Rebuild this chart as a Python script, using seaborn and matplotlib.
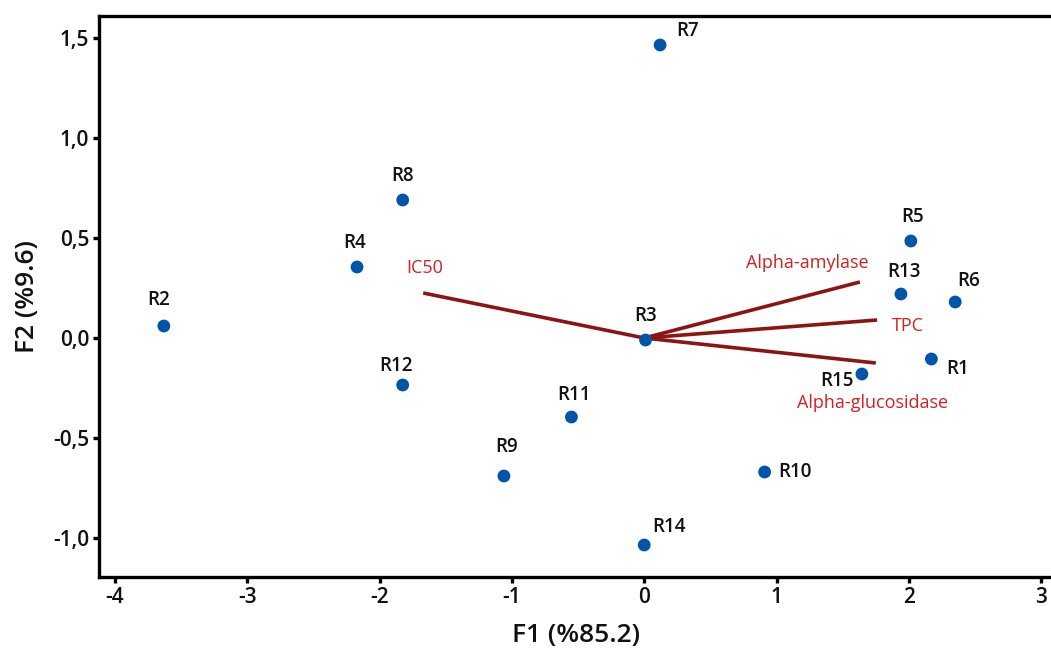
import matplotlib
matplotlib.use("Agg")
import matplotlib.pyplot as plt
import seaborn as sns
import pandas as pd

# Observations (scores)
obs_names = ["R1", "R2", "R3", "R4", "R5", "R6", "R7", "R8", "R9", "R10",
             "R11", "R12", "R13", "R14", "R15"]
obs_f1 = [2.17, -3.63, 0.01, -2.17, 2.015, 2.35, 0.12, -1.825, -1.06, 0.91,
          -0.55, -1.825, 1.94, 0.0, 1.645]
obs_f2 = [-0.105, 0.06, -0.01, 0.355, 0.485, 0.18, 1.465, 0.69, -0.69, -0.67,
          -0.395, -0.235, 0.22, -1.035, -0.18]

# Variables (loadings)
var_names = ["IC50", "Alpha-amylase", "TPC", "Alpha-glucosidase"]
var_f1 = [-1.67, 1.63, 1.76, 1.75]
var_f2 = [0.225, 0.28, 0.09, -0.125]

x_ticks = [-4, -3, -2, -1, 0, 1, 2, 3]
y_ticks = [-1.0, -0.5, 0.0, 0.5, 1.0, 1.5]
y_tick_labels = ["-1,0", "-0,5", "0,0", "0,5", "1,0", "1,5"]

sns.set_theme(style="white")
plt.rcParams["font.family"] = ["Open Sans", "DejaVu Sans"]

W, H = 1051, 648
fig = plt.figure(figsize=(W / 100, H / 100), dpi=100)
ax = fig.add_axes([99 / W, 71 / H, 1 - 99 / W, (577 - 16) / H])

df = pd.DataFrame({"F1": obs_f1, "F2": obs_f2, "name": obs_names})

# vectors
for n, vx, vy in zip(var_names, var_f1, var_f2):
    ax.plot([0, vx], [0, vy], color="#8c1414", lw=2.6, solid_capstyle="butt", zorder=2)

sns.scatterplot(data=df, x="F1", y="F2", ax=ax, color="#0055a8", s=85,
                edgecolor="none", zorder=3)

# point label offsets (points)
offsets = {
    "R1": (19, -7),
    "R2": (-4, 19),
    "R3": (0, 17),
    "R4": (-2, 17),
    "R5": (1, 17),
    "R6": (10, 15),
    "R7": (20, 10),
    "R8": (0, 17),
    "R9": (2, 21),
    "R10": (22, 0),
    "R11": (2, 16),
    "R12": (-5, 14),
    "R13": (2, 16),
    "R14": (18, 13),
    "R15": (-18, -5),
}
for n, x, y in zip(obs_names, obs_f1, obs_f2):
    dx, dy = offsets[n]
    ax.annotate(n, (x, y), xytext=(dx, dy), textcoords="offset points",
                ha="center", va="center", fontsize=13.5, fontweight="semibold",
                color="#111111")

var_off = {
    "IC50": (1, 18),
    "Alpha-amylase": (-38, 14),
    "TPC": (22, -4),
    "Alpha-glucosidase": (-2, -29),
}
for n, x, y in zip(var_names, var_f1, var_f2):
    dx, dy = var_off[n]
    ax.annotate(n, (x, y), xytext=(dx, dy), textcoords="offset points",
                ha="center", va="center", fontsize=13, color="#d42020")

ax.set_xlim(-4.12, 3.074)
ax.set_ylim(-1.195, 1.61)
ax.set_xticks(x_ticks)
ax.set_xticklabels([str(t) for t in x_ticks])
ax.set_yticks(y_ticks)
ax.set_yticklabels(y_tick_labels)

for s in ["left", "bottom", "top"]:
    ax.spines[s].set_visible(True)
    ax.spines[s].set_color("black")
    ax.spines[s].set_linewidth(2.4)
ax.spines["right"].set_visible(False)

ax.tick_params(axis="both", which="major", direction="out", length=4, width=2.4,
               color="black", labelsize=15, labelcolor="#111111", pad=3,
               bottom=True, left=True)
for lab in ax.get_xticklabels() + ax.get_yticklabels():
    lab.set_fontweight("semibold")

ax.set_xlabel("F1 (%85.2)", fontsize=19, fontweight="semibold", color="#111111")
ax.set_ylabel("F2 (%9.6)", fontsize=19, fontweight="semibold", color="#111111")
ax_w = (W - 99)
ax_h = (577 - 16)
ax.xaxis.set_label_coords((576 - 99) / ax_w, (577 - 636) / ax_h)
ax.yaxis.set_label_coords((28 - 99) / ax_w, (577 - 297) / ax_h)
ax.xaxis.label.set_va("center")
ax.yaxis.label.set_va("center")

fig.savefig("out.png", dpi=100)
